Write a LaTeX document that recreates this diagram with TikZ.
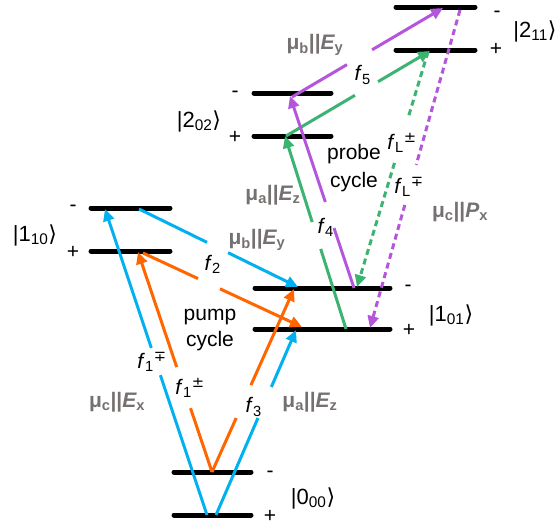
\documentclass[tikz,border=0pt]{standalone}
\usepackage{fontspec}
\setmainfont{Liberation Sans}
\newfontfamily\djv{DejaVu Sans}
\usetikzlibrary{arrows.meta,calc}
\definecolor{cblue}{RGB}{0,176,240}
\definecolor{corange}{RGB}{255,102,0}
\definecolor{cgreen}{RGB}{60,179,113}
\definecolor{cpurple}{RGB}{180,85,220}
\definecolor{cgray}{RGB}{118,113,113}
\newcommand\myket[2]{|#1\textsubscript{#2}{\djv ⟩}}
\newcommand\myf[2]{\textit{f}\textsubscript{#1}\textsuperscript{#2}}
\newcommand\mypol[3]{{\bfseries μ\textsubscript{#1}||{\itshape #2}\textsubscript{#3}}}
\newcommand\gapline[5]{\draw[#1] (#2) -- ($(#2)!#4!(#3)$) ($(#2)!#5!(#3)$) -- (#3);}
\begin{document}
\begin{tikzpicture}[x=1pt,y=-1pt,
  txt/.style={font=\fontsize{21}{26}\selectfont, inner sep=0pt},
  ktxt/.style={font=\fontsize{22}{26}\selectfont, inner sep=0pt},
  gtxt/.style={txt, text=cgray},
  level/.style={line width=5pt, line cap=round},
  arr/.style={line width=3pt, -{Triangle[length=12pt,width=11pt]}},
  darr/.style={arr, dash pattern=on 6pt off 4pt}]
\useasboundingbox (0,0) rectangle (558,525);
% levels
\draw[level] (174,472) -- (251,472);
\draw[level] (174,515) -- (251,515);
\draw[level] (91,208) -- (170,208);
\draw[level] (91,251) -- (170,251);
\draw[level] (255,288) -- (390,288);
\draw[level] (255,329) -- (390,329);
\draw[level] (254,93) -- (331,93);
\draw[level] (254,136) -- (331,136);
\draw[level] (396,7) -- (475,7);
\draw[level] (396,50) -- (475,50);
% coordinates
\coordinate (b1s) at (207,515); \coordinate (b1e) at (105,209);
\coordinate (b2s) at (216,515); \coordinate (b2e) at (296,330);
\coordinate (b3s) at (139,209); \coordinate (b3e) at (298,287);
\coordinate (o1s) at (212,472); \coordinate (o1e) at (138,252);
\coordinate (o2s) at (212,472); \coordinate (o2e) at (294,289);
\coordinate (o3s) at (143,253); \coordinate (o3e) at (302,327);
\coordinate (g1s) at (346,329); \coordinate (g1e) at (285,136);
\coordinate (g2s) at (286,136); \coordinate (g2e) at (430,51);
\coordinate (g3s) at (428,52);  \coordinate (g3e) at (357,287);
\coordinate (p1s) at (354,288); \coordinate (p1e) at (290,96);
\coordinate (p2s) at (292,97);  \coordinate (p2e) at (443,8);
\coordinate (p3s) at (460,10);  \coordinate (p3e) at (370,328);
% arrows
\gapline{arr,cblue}{b1s}{b1e}{0.457}{0.546}
\gapline{arr,cblue}{b2s}{b2e}{0.524}{0.692}
\gapline{arr,cblue}{b3s}{b3e}{0.428}{0.56}
\gapline{arr,corange}{o1s}{o1e}{0.29}{0.477}
\gapline{arr,corange}{o2s}{o2e}{0.295}{0.475}
\gapline{arr,corange}{o3s}{o3e}{0.346}{0.484}
\gapline{arr,cgreen}{g1s}{g1e}{0.415}{0.554}
\gapline{arr,cgreen}{g2s}{g2e}{0.479}{0.639}
\gapline{darr,cgreen}{g3s}{g3e}{0.281}{0.472}
\gapline{arr,cpurple}{p1s}{p1e}{0.3125}{0.448}
\gapline{arr,cpurple}{p2s}{p2e}{0.364}{0.53}
\gapline{darr,cpurple}{p3s}{p3e}{0.487}{0.613}
% frequency labels
\node[txt] (f2) at (213,264) {\myf{2}{}};
\node[txt] (f1a) at (152,362) {\myf{1}{\djv ∓}};
\node[txt] (f1b) at (190,388) {\myf{1}{\djv ±}};
\node[txt] (f3) at (254,407) {\myf{3}{}};
\node[txt] (f4) at (326,227) {\myf{4}{}};
\node[txt] (f5) at (363,75) {\myf{5}{}};
\node[txt] (fLa) at (402,143) {\myf{L}{\djv ±}};
\node[txt] (fLb) at (409,187) {\myf{L}{\djv ∓}};
\node[txt, align=center] (pump) at (210,330) {pump\\cycle};
\node[txt, align=center, font=\fontsize{21}{28}\selectfont] (probe) at (354,168) {probe\\cycle};
% polarisation labels
\node[gtxt] (pb1) at (315,45) {\mypol{b}{E}{y}};
\node[gtxt] (pa1) at (273,195) {\mypol{a}{E}{z}};
\node[gtxt] (pb2) at (257,240) {\mypol{b}{E}{y}};
\node[gtxt] (pc1) at (117,402) {\mypol{c}{E}{x}};
\node[gtxt] (pa2) at (310,402) {\mypol{a}{E}{z}};
\node[gtxt] (pc2) at (460,212) {\mypol{c}{P}{x}};
% kets
\node[ktxt] (k110) at (35,235) {\myket{1}{10}};
\node[ktxt] (k000) at (313,498) {\myket{0}{00}};
\node[ktxt] (k101) at (451,315) {\myket{1}{01}};
\node[ktxt] (k202) at (199,121) {\myket{2}{02}};
\node[ktxt] (k211) at (535,31) {\myket{2}{11}};
% parity signs
\node[txt] (s1) at (73,208) {-};
\node[txt] (s2) at (73,252) {+};
\node[txt] (s3) at (270,474) {-};
\node[txt] (s4) at (270,516) {+};
\node[txt] (s5) at (408,288) {-};
\node[txt] (s6) at (409,330) {+};
\node[txt] (s7) at (235,94) {-};
\node[txt] (s8) at (235,137) {+};
\node[txt] (s9) at (497,14) {-};
\node[txt] (s10) at (496,49) {+};
\end{tikzpicture}
\end{document}
